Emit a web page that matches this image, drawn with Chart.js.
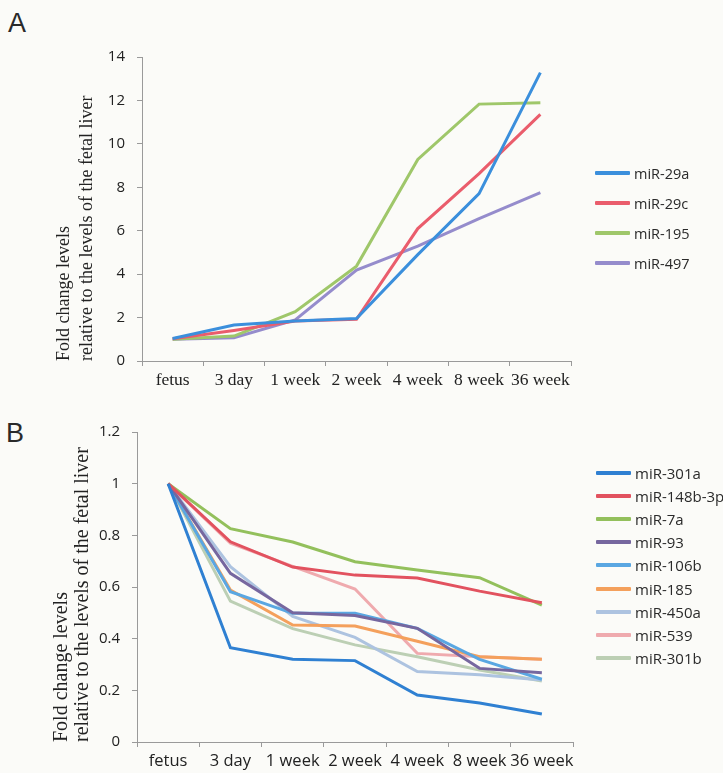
<!DOCTYPE html>
<html>
<head>
<meta charset="utf-8">
<script src="https://cdn.jsdelivr.net/npm/chart.js@4.4.1/dist/chart.umd.min.js"></script>
<style>
  html, body { margin: 0; padding: 0; background: #fbfbf8; }
  #wrap { position: relative; width: 723px; height: 773px; overflow: hidden; background: #fbfbf8; }
  .cv { position: absolute; left: 0; }
  .panel { position: absolute; font-family: "Liberation Sans", Arial, sans-serif; color: #2a2a2a; }
  .leg { position: absolute; font-family: "Open Sans", sans-serif; color: #2a2a2a; }
  .leg .it { position: absolute; left: 0; height: 20px; display: flex; align-items: center; white-space: nowrap; }
  .leg .ln { display: inline-block; width: 35px; height: 4px; margin-right: 4px; border-radius: 1px; }
</style>
</head>
<body>
<div id="wrap">
  <div class="panel" style="left:8px; top:8px; font-size:27px;">A</div>
  <div class="panel" style="left:6px; top:418px; font-size:27px;">B</div>
  <canvas id="cA" class="cv" style="top:0px" width="723" height="400"></canvas>
  <canvas id="cB" class="cv" style="top:400px" width="723" height="373"></canvas>
  <div id="legA" class="leg" style="left:595px; top:0px; font-size:14.5px;"></div>
  <div id="legB" class="leg" style="left:596px; top:0px; font-size:15px;"></div>
</div>
<script>
// ---------- Data: panel A ----------
const categories = ["fetus", "3 day", "1 week", "2 week", "4 week", "8 week", "36 week"];
const yTitle = ["Fold change levels", "relative to the levels of the fetal liver"];

const seriesA_names = ["miR-29a", "miR-29c", "miR-195", "miR-497"];
const miR29a  = [1.04, 1.66, 1.84, 1.96, 4.9, 7.71, 13.28];
const miR29c  = [1.02, 1.40, 1.84, 1.92, 6.1, 8.63, 11.36];
const miR195  = [1.00, 1.15, 2.27, 4.37, 9.28, 11.83, 11.89];
const miR497  = [1.00, 1.07, 1.89, 4.19, 5.29, 6.56, 7.75];
const ticksA = [0, 2, 4, 6, 8, 10, 12, 14];

// ---------- Data: panel B ----------
const seriesB_names = ["miR-301a", "miR-148b-3p", "miR-7a", "miR-93", "miR-106b", "miR-185", "miR-450a", "miR-539", "miR-301b"];
const miR301a  = [1, 0.365, 0.320, 0.315, 0.182, 0.151, 0.108];
const miR148b  = [1, 0.775, 0.677, 0.646, 0.635, 0.584, 0.539];
const miR7a    = [1, 0.826, 0.774, 0.698, 0.666, 0.636, 0.530];
const miR93    = [1, 0.653, 0.500, 0.490, 0.440, 0.285, 0.268];
const miR106b  = [1, 0.582, 0.498, 0.498, 0.440, 0.320, 0.243];
const miR185   = [1, 0.588, 0.453, 0.449, 0.390, 0.330, 0.320];
const miR450a  = [1, 0.679, 0.486, 0.405, 0.273, 0.260, 0.240];
const miR539   = [1, 0.770, 0.680, 0.592, 0.343, 0.330, 0.320];
const miR301b  = [1, 0.545, 0.439, 0.376, 0.330, 0.279, 0.236];
const ticksB = [0, 0.2, 0.4, 0.6, 0.8, 1, 1.2];

// ---------- Styles ----------
const colorsA = ["#3b8fdc", "#ea5d6c", "#9fc76a", "#958ccc"];
const colorsB = ["#2f80d2", "#e2525f", "#93c05c", "#76679f", "#5aa7e2", "#f4a05c", "#adc3e0", "#efaaae", "#bccfb4"];

function makeDatasets(names, values, colors) {
  return names.map((n, i) => ({
    label: n, data: values[i], borderColor: colors[i], backgroundColor: colors[i],
    borderWidth: 3, pointRadius: 0, tension: 0, fill: false
  }));
}

function buildLegend(el, names, colors, firstY, step) {
  names.forEach((n, i) => {
    const d = document.createElement('div');
    d.className = 'it';
    d.style.top = (firstY + i * step - 10) + 'px';
    const s = document.createElement('span');
    s.className = 'ln'; s.style.background = colors[i];
    d.appendChild(s);
    d.appendChild(document.createTextNode(n));
    el.appendChild(d);
  });
}
buildLegend(document.getElementById('legA'), seriesA_names, colorsA, 173, 30);
buildLegend(document.getElementById('legB'), seriesB_names, colorsB, 473, 23.1);

function makeChart(id, datasets, opt) {
  return new Chart(document.getElementById(id), {
    type: 'line',
    data: { labels: categories, datasets },
    options: {
      responsive: false, animation: false, devicePixelRatio: 1,
      layout: { padding: { top: opt.top, right: opt.right, left: 0, bottom: 0 } },
      plugins: { legend: { display: false }, tooltip: { enabled: false } },
      scales: {
        x: {
          type: 'category', offset: true,
          grid: { display: true, drawOnChartArea: false, offset: true, drawTicks: true, tickLength: 5, color: '#9a9a9a' },
          border: { display: true, color: '#9a9a9a', width: 1 },
          ticks: { color: '#222', font: opt.xFont, padding: opt.xPad, maxRotation: 0, autoSkip: false },
          afterFit: s => { s.height = opt.xHeight; }
        },
        y: {
          min: 0, max: opt.max,
          afterBuildTicks: s => { s.ticks = opt.ticks.map(v => ({ value: v })); },
          grid: { display: true, drawOnChartArea: false, drawTicks: true, tickLength: 5, color: '#9a9a9a' },
          border: { display: true, color: '#9a9a9a', width: 1 },
          ticks: { color: '#222', font: { family: 'Open Sans', size: 15 }, padding: opt.yPad, callback: v => String(v) },
          title: {
            display: true, text: yTitle, align: 'start', color: '#222',
            font: { family: 'Liberation Serif', size: opt.titleSize, lineHeight: opt.titleLH },
            padding: { top: opt.titlePadTop, bottom: 0 }
          },
          afterFit: s => { s.width = opt.left; }
        }
      }
    }
  });
}

makeChart('cA', makeDatasets(seriesA_names, [miR29a, miR29c, miR195, miR497], colorsA), {
  top: 57, right: 152, left: 142, xHeight: 39, max: 14, ticks: ticksA,
  xFont: { family: 'Liberation Serif', size: 17.5 }, xPad: 4, yPad: 12,
  titleSize: 18, titleLH: 23 / 18, titlePadTop: 53
});

makeChart('cB', makeDatasets(seriesB_names, [miR301a, miR148b, miR7a, miR93, miR106b, miR185, miR450a, miR539, miR301b], colorsB), {
  top: 32, right: 150, left: 137, xHeight: 31, max: 1.2, ticks: ticksB,
  xFont: { family: 'Open Sans', size: 16.5 }, xPad: 4, yPad: 12,
  titleSize: 20, titleLH: 21 / 20, titlePadTop: 51
});
</script>
</body>
</html>
